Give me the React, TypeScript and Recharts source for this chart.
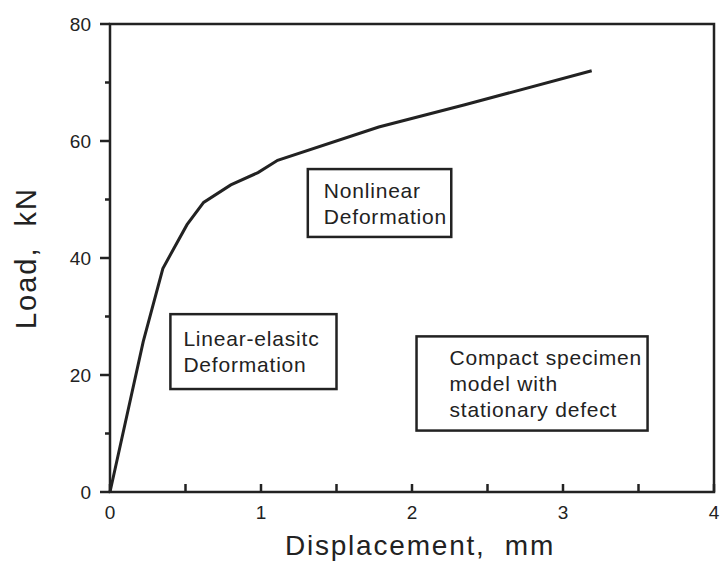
import React from "react";
import { LineChart, Line, XAxis, YAxis, ReferenceArea, Label } from "recharts";

// load–displacement curve (scan tilt removed)
const displacement = [0, 0.22, 0.35, 0.42, 0.51, 0.62, 0.8, 0.98, 1.11, 1.78, 2.35, 3.19];
const load = [0, 25.7, 38.2, 41.5, 45.7, 49.5, 52.5, 54.6, 56.7, 62.4, 66.2, 72.0];

const xTicks = [0, 0.5, 1, 1.5, 2, 2.5, 3, 3.5, 4];
const yTicks = [0, 10, 20, 30, 40, 50, 60, 70, 80];

const notes = [
  { x1: 0.4, x2: 1.5, y1: 17.6, y2: 30.4, indent: 13, lines: ["Linear-elasitc", "Deformation"] },
  { x1: 1.31, x2: 2.26, y1: 43.6, y2: 55.2, indent: 16, lines: ["Nonlinear", "Deformation"] },
  {
    x1: 2.03,
    x2: 3.56,
    y1: 10.5,
    y2: 26.6,
    indent: 33,
    lines: ["Compact specimen", "model with", "stationary defect"],
  },
];

const rows = displacement.map((d, i) => ({ x: d, y: load[i] }));

const INK = "#222";
const FONT = '"Liberation Sans", Helvetica, Arial, sans-serif';

function XTick(props: any) {
  const { x, y, payload } = props;
  const v = payload.value;
  return (
    <g>
      <line x1={x} y1={y} x2={x} y2={y - 8} stroke={INK} strokeWidth={2.5} />
      {Number.isInteger(v) ? (
        <text x={x} y={y + 27} textAnchor="middle" fontSize={19} fill={INK} fontFamily={FONT}>
          {v}
        </text>
      ) : null}
    </g>
  );
}

function YTick(props: any) {
  const { x, y, payload } = props;
  const v = payload.value;
  const major = v % 20 === 0;
  return (
    <g>
      <line x1={x} y1={y} x2={x - (major ? 10 : 5)} y2={y} stroke={INK} strokeWidth={2.5} />
      {major ? (
        <text x={x - 19} y={y + 7} textAnchor="end" fontSize={19} fill={INK} fontFamily={FONT}>
          {v}
        </text>
      ) : null}
    </g>
  );
}

function NoteBox(lines: string[], indent: number) {
  return (props: any) => {
    const { x, y, width, height } = props;
    const lh = 26;
    const top = y + height / 2 - ((lines.length - 1) * lh) / 2 + 7.5;
    return (
      <g>
        <rect x={x} y={y} width={width} height={height} fill="#fff" stroke={INK} strokeWidth={2.5} />
        {lines.map((t, i) => (
          <text
            key={i}
            x={x + indent}
            y={top + i * lh}
            fontSize={21}
            letterSpacing={0.8}
            fill={INK}
            fontFamily={FONT}
          >
            {t}
          </text>
        ))}
      </g>
    );
  };
}

export default function App() {
  return (
    <div style={{ position: "absolute", left: 0, top: 0, background: "#fff" }}>
      <LineChart
        width={724}
        height={567}
        data={rows}
        margin={{ top: 24, right: 10, bottom: 0, left: 0 }}
      >
        <XAxis
          dataKey="x"
          type="number"
          domain={[0, 4]}
          ticks={xTicks}
          interval={0}
          height={75}
          axisLine={false}
          tickLine={false}
          tickSize={0}
          tickMargin={0}
          tick={<XTick />}
        >
          <Label
            value={"Displacement,\u00A0\u00A0mm"}
            position="insideBottom"
            offset={12}
            dx={8}
            style={{ fontSize: 28, fill: INK, fontFamily: FONT, letterSpacing: 1.8 }}
          />
        </XAxis>
        <YAxis
          type="number"
          domain={[0, 80]}
          ticks={yTicks}
          interval={0}
          width={110}
          axisLine={false}
          tickLine={false}
          tickSize={0}
          tickMargin={0}
          tick={<YTick />}
        >
          <Label
            value={"Load,\u00A0\u00A0kN"}
            position="insideLeft"
            angle={-90}
            offset={26}
            style={{ fontSize: 29, fill: INK, fontFamily: FONT, textAnchor: "middle", letterSpacing: 2 }}
          />
        </YAxis>
        <ReferenceArea
          x1={0}
          x2={4}
          y1={0}
          y2={80}
          fill="none"
          stroke={INK}
          strokeWidth={2.5}
          fillOpacity={0}
        />
        {notes.map((n, i) => (
          <ReferenceArea
            key={i}
            x1={n.x1}
            x2={n.x2}
            y1={n.y1}
            y2={n.y2}
            shape={NoteBox(n.lines, n.indent)}
          />
        ))}
        <Line
          type="linear"
          dataKey="y"
          stroke={INK}
          strokeWidth={3}
          dot={false}
          isAnimationActive={false}
        />
      </LineChart>
    </div>
  );
}
